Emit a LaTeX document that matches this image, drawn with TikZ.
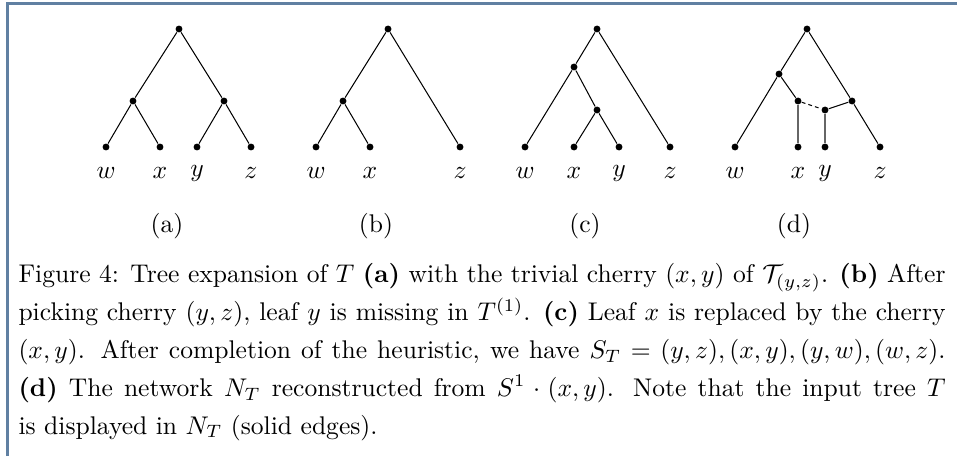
\documentclass[tikz,border=0pt]{standalone}
\usepackage{amsmath}
\definecolor{framecol}{RGB}{96,128,162}
\newsavebox\lnA
\newsavebox\lnB
\newsavebox\lnC
\newsavebox\lnD
\newlength\capw
\tikzset{
  dot/.style={circle, fill=black, inner sep=0pt, minimum size=2.7pt},
  lab/.style={inner sep=0pt, anchor=center},
  sub/.style={inner sep=0pt, anchor=center},
  edge/.style={line width=0.4pt},
  grayedge/.style={line width=0.55pt, draw=black!60},
  dashededge/.style={line width=0.4pt, dash pattern=on 1.5pt off 1.2pt},
}
\newcommand{\capA}{Figure 4: Tree expansion of $T$ \textbf{(a)} with the trivial cherry $(x,y)$ of $\mathcal{T}_{(y,z)}$. \textbf{(b)} After}
\newcommand{\capB}{picking cherry $(y,z)$, leaf $y$ is missing in $T^{(1)}$. \textbf{(c)} Leaf $x$ is replaced by the cherry}
\newcommand{\capC}{$(x,y)$. After completion of the heuristic, we have $S_T=(y,z),(x,y),(y,w),(w,z)$.}
\newcommand{\capD}{\textbf{(d)} The network $N_T$ reconstructed from $S^1\cdot(x,y)$. Note that the input tree $T$}
\newcommand{\capE}{is displayed in $N_T$ (solid edges).}
\begin{document}
\sbox\lnA{\capA}\sbox\lnB{\capB}\sbox\lnC{\capC}\sbox\lnD{\capD}%
\setlength\capw{\wd\lnA}%
\ifdim\wd\lnB>\capw \setlength\capw{\wd\lnB}\fi
\ifdim\wd\lnC>\capw \setlength\capw{\wd\lnC}\fi
\ifdim\wd\lnD>\capw \setlength\capw{\wd\lnD}\fi
\pgfmathsetlengthmacro\pxu{\capw/927}%
\begin{tikzpicture}[x=\pxu, y=-\pxu]
\useasboundingbox (0,0) rectangle (957,456);
\fill[white] (0,0) rectangle (957,456);
% frame
\coordinate (ftl) at (7.5,3.5);
\coordinate (ftr) at (957,3.5);
\coordinate (fbl) at (7.5,456);
\draw[framecol, line width=0.8pt] (fbl) -- (ftl) -- (ftr);

% ---------- (a)
\node[dot] (ar) at (179,29) {};
\node[dot] (al) at (133,101) {};
\node[dot] (aR) at (224,101) {};
\node[dot] (aw) at (106,147) {};
\node[dot] (ax) at (160,147) {};
\node[dot] (ay) at (197,147) {};
\node[dot] (az) at (251,147) {};
\draw[edge] (ar) -- (al) (ar) -- (aR) (al) -- (aw) (al) -- (ax) (aR) -- (ay) (aR) -- (az);
\node[lab] (law) at (106,173) {$w$};
\node[lab] (lax) at (160,173) {$x$};
\node[lab] (lay) at (197,173) {$y$};
\node[lab] (laz) at (251,173) {$z$};
\node[sub] (suba) at (167,226) {(a)};

% ---------- (b)
\node[dot] (br) at (388,29) {};
\node[dot] (bl) at (343,101) {};
\node[dot] (bw) at (316,147) {};
\node[dot] (bx) at (370,147) {};
\node[dot] (bz) at (460,147) {};
\draw[edge] (br) -- (bl) (br) -- (bz) (bl) -- (bw) (bl) -- (bx);
\node[lab] (lbw) at (316,173) {$w$};
\node[lab] (lbx) at (370,173) {$x$};
\node[lab] (lbz) at (460,173) {$z$};
\node[sub] (subb) at (376,226) {(b)};

% ---------- (c)
\node[dot] (cr) at (597,29) {};
\node[dot] (cl) at (574,67) {};
\node[dot] (cm) at (597,110) {};
\node[dot] (cw) at (525,147) {};
\node[dot] (cx) at (574,147) {};
\node[dot] (cy) at (619,147) {};
\node[dot] (cz) at (670,147) {};
\draw[edge] (cr) -- (cl) (cr) -- (cz) (cl) -- (cw) (cl) -- (cm) (cm) -- (cx) (cm) -- (cy);
\node[lab] (lcw) at (525,173) {$w$};
\node[lab] (lcx) at (574,173) {$x$};
\node[lab] (lcy) at (619,173) {$y$};
\node[lab] (lcz) at (670,173) {$z$};
\node[sub] (subc) at (585,226) {(c)};

% ---------- (d)
\node[dot] (dr) at (807,29) {};
\node[dot] (dl) at (779,74) {};
\node[dot] (dxp) at (798,101) {};
\node[dot] (dyp) at (825,110) {};
\node[dot] (dR) at (852,101) {};
\node[dot] (dw) at (735,147) {};
\node[dot] (dx) at (798,147) {};
\node[dot] (dy) at (825,147) {};
\node[dot] (dz) at (880,147) {};
\draw[edge] (dr) -- (dl) (dr) -- (dR) (dR) -- (dz) (dl) -- (dw) (dl) -- (dxp) (dR) -- (dyp);
\draw[dashededge] (dxp) -- (dyp);
\draw[grayedge] (dxp) -- (dx) (dyp) -- (dy);
\node[lab] (ldw) at (735,173) {$w$};
\node[lab] (ldx) at (798,173) {$x$};
\node[lab] (ldy) at (825,173) {$y$};
\node[lab] (ldz) at (880,173) {$z$};
\node[sub] (subd) at (794,226) {(d)};

% ---------- caption
\node[anchor=north west, inner sep=0pt, text width=\capw, align=justify,
      font=\fontsize{10}{14.8}\selectfont] (cap) at (18,263)
{\capA\linebreak \capB\linebreak \capC\linebreak \capD\linebreak \capE};
\end{tikzpicture}
\end{document}
